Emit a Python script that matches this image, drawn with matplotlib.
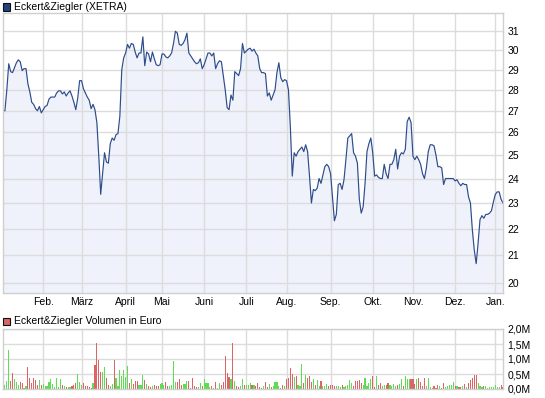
import matplotlib
matplotlib.use("Agg")
import matplotlib.pyplot as plt
from matplotlib.patches import Rectangle
import numpy as np
import pandas as pd

plt.rcParams['font.family'] = ['Liberation Sans', 'DejaVu Sans']

# XETRA trading days, Jan 2011 - Jan 2012
dates = pd.bdate_range('2011-01-03', '2012-01-06', freq='C',
                       holidays=['2011-04-22', '2011-04-25', '2011-12-26'])

month_labels = ['Feb.', 'März', 'April', 'Mai', 'Juni', 'Juli',
                'Aug.', 'Sep.', 'Okt.', 'Nov.', 'Dez.', 'Jan.']

# closing prices (EUR)
price = [
    27.0, 27.0, 28.0, 29.3, 28.9, 28.85, 29.1, 29.35, 29.5, 29.4,
    28.95, 29.05, 29.05, 28.3, 27.9, 27.4, 27.3, 27.1, 27.0, 27.2,
    26.9, 27.05, 27.2, 27.25, 27.55, 27.65, 27.65, 27.65, 27.85, 27.95,
    27.95, 27.8, 27.9, 27.7, 27.85, 27.95, 27.7, 27.4, 27.05, 27.6,
    28.45, 28.45, 28.05, 27.85, 27.65, 27.5, 27.1, 27.3, 27.05, 26.45,
    24.95, 23.35, 24.2, 25.1, 24.7, 24.65, 25.5, 25.75, 25.65, 25.9,
    25.95, 26.75, 29.0, 29.6, 29.85, 30.3, 30.1, 30.35, 30.3, 29.9,
    29.6, 29.85, 29.85, 30.7, 29.2, 29.9, 29.8, 29.4, 29.9, 29.55,
    29.25, 29.2, 29.25, 29.8, 29.8, 29.65, 29.6, 29.7, 29.85, 30.35,
    31.0, 30.9, 30.3, 30.25, 30.35, 30.55, 30.9, 29.85, 29.7, 29.55,
    29.4, 29.3, 29.35, 29.55, 29.05, 29.25, 29.55, 29.85, 29.85, 29.7,
    29.85, 29.05, 29.3, 29.45, 29.4, 28.7, 28.0, 27.15, 27.05, 27.75,
    27.5, 28.9, 28.8, 28.7, 29.05, 30.35, 29.85, 29.95, 30.05, 30.1,
    29.95, 30.05, 29.85, 29.7, 29.05, 28.85, 28.85, 28.8, 27.7, 27.85,
    27.5, 27.75, 28.0, 28.85, 29.35, 28.6, 28.4, 28.5, 28.45, 28.0,
    26.25, 24.1, 25.1, 24.95, 25.15, 25.25, 25.35, 25.15, 25.45, 25.15,
    24.1, 23.0, 23.55, 23.5, 23.6, 24.0, 23.8, 24.15, 24.5, 24.6,
    24.5, 24.2, 23.25, 22.3, 22.55, 23.75, 23.8, 23.55, 23.95, 24.8,
    25.75, 25.85, 25.95, 25.1, 24.95, 24.65, 23.15, 22.6, 22.85, 23.8,
    25.15, 25.5, 25.75, 25.1, 24.1, 24.15, 24.05, 24.0, 24.0, 24.6,
    24.2, 24.0, 24.6, 24.6, 24.8, 25.25, 24.4, 24.95, 25.1, 25.05,
    25.25, 26.5, 26.7, 26.45, 24.95, 24.8, 24.95, 24.8, 24.6, 24.2,
    24.0, 24.45, 25.15, 25.45, 25.45, 25.4, 25.0, 24.5, 24.5, 24.45,
    23.75, 24.0, 24.0, 24.0, 24.0, 24.0, 23.9, 23.95, 23.8, 23.7,
    23.8, 23.75, 23.75, 23.25, 23.0, 21.95, 21.2, 20.7, 21.45, 22.35,
    22.5, 22.4, 22.55, 22.55, 22.6, 22.7, 23.05, 23.35, 23.45, 23.45,
    23.15, 23.0,
]

# daily turnover (million EUR)
volume = [
    0.135, 0.135, 0.27, 1.31, 0.27, 0.53, 0.34, 0.22, 0.135, 0.22,
    0.19, 0.02, 0.10, 0.74, 0.36, 0.19, 0.36, 0.30, 0.135, 0.30,
    0.135, 0.17, 0.11, 0.11, 0.22, 0.34, 0.17, 0.06, 0.37, 0.07,
    0.34, 0.135, 0.10, 0.07, 0.07, 0.07, 0.10, 0.135, 0.20, 0.49,
    0.25, 0.135, 0.19, 0.10, 0.10, 0.07, 0.02, 0.20, 0.81, 1.52,
    0.98, 0.57, 0.57, 0.74, 0.37, 0.135, 0.10, 0.17, 0.98, 0.37,
    0.10, 0.64, 0.44, 0.64, 0.40, 0.78, 0.20, 0.34, 0.17, 0.27,
    0.27, 0.135, 0.135, 0.47, 0.30, 0.17, 0.10, 0.07, 0.10, 0.135,
    0.10, 0.10, 0.17, 0.20, 0.135, 0.24, 0.10, 0.10, 0.135, 0.94,
    0.24, 0.24, 0.34, 0.135, 0.17, 0.17, 0.27, 0.27, 0.03, 0.37,
    0.10, 0.07, 0.07, 0.20, 0.10, 0.34, 0.20, 0.20, 0.07, 0.10,
    0.03, 0.24, 0.03, 0.20, 0.135, 0.24, 1.11, 0.54, 0.40, 0.34,
    1.55, 0.27, 0.10, 0.07, 0.10, 0.34, 0.135, 0.135, 0.135, 0.20,
    0.135,
    0.135, 0.10, 0.20, 0.07, 0.045, 0.10, 0.24, 0.07, 0.17, 0.07,
    0.10, 0.24, 0.24, 0.10, 0.03, 0.135, 0.10, 0.34, 0.37, 0.71,
    0.51, 0.40, 0.44, 0.135, 0.10, 0.84, 0.20, 0.47, 0.37, 0.44,
    0.24, 0.34, 0.135, 0.30, 0.10, 0.27, 0.10, 0.10, 0.17, 0.10,
    0.135, 0.135, 0.10, 0.10, 0.10, 0.07, 0.135, 0.07, 0.10, 0.135,
    0.30, 0.20, 0.10, 0.27, 0.27, 0.30, 0.20, 0.135, 0.37, 0.10,
    0.20, 0.34, 0.44, 0.07, 0.44, 0.135, 0.20, 0.10, 0.135, 0.135,
    0.20, 0.135, 0.10, 0.17, 0.10, 0.135, 0.17, 0.34, 0.10, 0.44,
    0.34, 0.34, 0.34, 0.34, 0.17, 0.34, 0.37, 0.24, 0.10, 0.37,
    0.10, 0.37, 0.07, 0.03, 0.10, 0.03, 0.135, 0.10, 0.03, 0.20,
    0.07, 0.10, 0.135, 0.135, 0.24, 0.10, 0.10, 0.07, 0.07, 0.10,
    0.17, 0.07, 0.20, 0.30, 0.37, 0.47, 0.47, 0.20, 0.10, 0.07,
    0.10, 0.10, 0.03, 0.07, 0.07, 0.07, 0.135, 0.07, 0.07, 0.135,
    0.07,
]

price = np.array(price)
volume = np.array(volume)
x = np.arange(len(dates))
month_idx = [i for i in range(1, len(dates)) if dates[i].month != dates[i - 1].month]

# bar colour: closing up (or flat) green, down red
chg = np.diff(price, prepend=price[0])
bar_colors = np.where(chg >= 0, '#5fdc52', '#dc6464')

W, H = 545, 398
fig = plt.figure(figsize=(W / 100, H / 100), dpi=100)

GRID = '#dcdcdc'
FRAME = '#cfcfcf'
FS = 7.5


def frac(px_left, px_top, px_right, px_bottom):
    return [px_left / W, 1 - px_bottom / H, (px_right - px_left) / W, (px_bottom - px_top) / H]


# ---- price panel ----
ax = fig.add_axes(frac(3, 13, 503, 293))
ax.set_yscale('log')
ax.fill_between(x, price, 19.0, color='#eff2fb', lw=0)
ax.plot(x, price, color='#2d4c8a', lw=0.85)
ax.set_xlim(0, len(x) - 1)
ax.set_ylim(19.67, 32.0)
ax.set_yticks(range(20, 32))
ax.set_yticklabels([str(v) for v in range(20, 32)])
ax.yaxis.set_minor_locator(matplotlib.ticker.NullLocator())
ax.yaxis.tick_right()
ax.set_xticks(month_idx)
ax.set_xticklabels(month_labels)
ax.grid(True, color=GRID, lw=1.0)
ax.tick_params(length=0, labelsize=FS, pad=3)
for s in ax.spines.values():
    s.set_color(FRAME)
    s.set_linewidth(1.0)

# ---- volume panel ----
axv = fig.add_axes(frac(3, 329, 503, 389))
axv.bar(x, volume, width=0.6, color=bar_colors, lw=0, antialiased=False)
axv.set_xlim(0, len(x) - 1)
axv.set_ylim(0, 2.0)
axv.set_yticks([0, 0.5, 1.0, 1.5, 2.0])
axv.set_yticklabels(['0,0M', '0,5M', '1,0M', '1,5M', '2,0M'])
axv.yaxis.tick_right()
axv.set_xticks(month_idx)
axv.set_xticklabels([])
axv.grid(True, color=GRID, lw=1.0)
axv.set_axisbelow(True)
axv.tick_params(length=0, labelsize=FS, pad=3)
for s in axv.spines.values():
    s.set_color(FRAME)
    s.set_linewidth(1.0)

# ---- legend boxes ----
fig.add_artist(Rectangle((3 / W, 1 - 10.5 / H), 7 / W, 7 / H, transform=fig.transFigure,
                         facecolor='#23427a', edgecolor='#111111', lw=0.8))
fig.text(14 / W, 1 - 7 / H, 'Eckert&Ziegler (XETRA)', fontsize=FS, va='center', ha='left')
fig.add_artist(Rectangle((3 / W, 1 - 324.5 / H), 7 / W, 7 / H, transform=fig.transFigure,
                         facecolor='#dc6464', edgecolor='#111111', lw=0.8))
fig.text(14 / W, 1 - 321 / H, 'Eckert&Ziegler Volumen in Euro', fontsize=FS, va='center', ha='left')

fig.savefig('out.png', dpi=100)
